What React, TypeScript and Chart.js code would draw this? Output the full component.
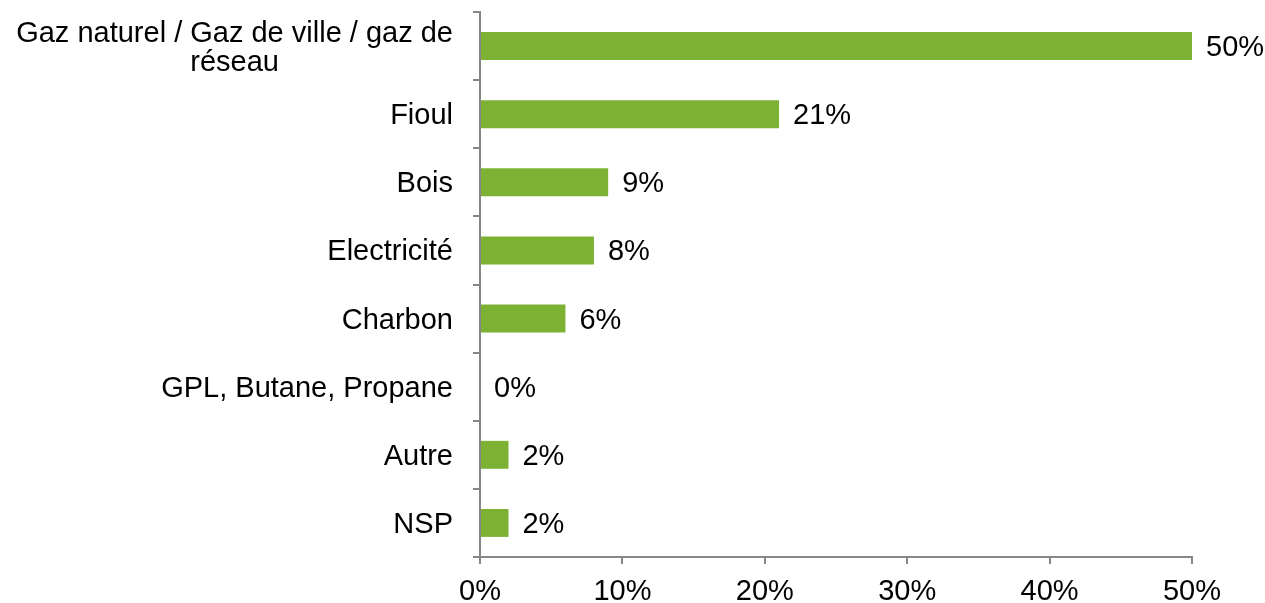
import React, { useEffect, useRef } from "react";
import { Chart, registerables } from "chart.js";

Chart.register(...registerables);

const categories: string[][] = [
  ["Gaz naturel / Gaz de ville / gaz de", "réseau"],
  ["Fioul"],
  ["Bois"],
  ["Electricité"],
  ["Charbon"],
  ["GPL, Butane, Propane"],
  ["Autre"],
  ["NSP"],
];
const values: number[] = [50, 21, 9, 8, 6, 0, 2, 2];
const valueLabels: string[] = ["50%", "21%", "9%", "8%", "6%", "0%", "2%", "2%"];
const xTicks: number[] = [0, 10, 20, 30, 40, 50];

const FONT = "Arial, 'Liberation Sans', sans-serif";
const FONT_SIZE = 29;
const AXIS_COLOR = "#878787";
const BAR_COLOR = "#7CB133";

const labelPlugin = {
  id: "customLabels",
  afterDraw(chart: any) {
    const ctx = chart.ctx;
    const yScale = chart.scales.y;
    const xScale = chart.scales.x;
    ctx.save();
    ctx.font = `${FONT_SIZE}px ${FONT}`;
    ctx.fillStyle = "#000";
    ctx.textBaseline = "middle";
    const rightEdge = yScale.right - 27;
    categories.forEach((lines, i) => {
      const yc = yScale.getPixelForValue(i) + 2;
      const lh = 29;
      const widths = lines.map((l) => ctx.measureText(l).width);
      const maxW = Math.max(...widths);
      lines.forEach((line, j) => {
        const y = yc + (j - (lines.length - 1) / 2) * lh;
        if (lines.length > 1) {
          ctx.textAlign = "center";
          ctx.fillText(line, rightEdge - maxW / 2, y);
        } else {
          ctx.textAlign = "right";
          ctx.fillText(line, rightEdge, y);
        }
      });
    });
    ctx.textAlign = "left";
    values.forEach((v, i) => {
      const x = xScale.getPixelForValue(v) + 14;
      const y = yScale.getPixelForValue(i) + 2;
      ctx.fillText(valueLabels[i], x, y);
    });
    ctx.restore();
  },
};

export default function App() {
  const canvasRef = useRef<HTMLCanvasElement | null>(null);

  useEffect(() => {
    document.body.style.margin = "0";
    const canvas = canvasRef.current;
    if (!canvas) return;
    const chart = new Chart(canvas, {
      type: "bar",
      data: {
        labels: categories.map((c) => c.join(" ")),
        datasets: [
          {
            data: values,
            backgroundColor: BAR_COLOR,
            borderWidth: 0,
            barPercentage: 0.41,
            categoryPercentage: 1,
          },
        ],
      },
      options: {
        indexAxis: "y",
        animation: false,
        responsive: false,
        maintainAspectRatio: false,
        layout: { padding: { top: 12, right: 73, left: 0, bottom: 0 } },
        plugins: {
          legend: { display: false },
          tooltip: { enabled: false },
        },
        scales: {
          x: {
            type: "linear",
            min: 0,
            max: 50,
            afterBuildTicks: (scale: any) => {
              scale.ticks = xTicks.map((v) => ({ value: v }));
            },
            afterFit: (scale: any) => {
              scale.height = 46;
            },
            ticks: {
              font: { family: FONT, size: FONT_SIZE },
              color: "#000",
              padding: 11,
              callback: (v: any) => `${v}%`,
              maxRotation: 0,
            },
            grid: {
              drawOnChartArea: false,
              drawTicks: true,
              tickLength: 7,
              color: AXIS_COLOR,
              lineWidth: 2,
            },
            border: { color: AXIS_COLOR, width: 2 },
          },
          y: {
            type: "category",
            offset: true,
            afterFit: (scale: any) => {
              scale.width = 480;
            },
            ticks: { display: false },
            grid: {
              offset: true,
              drawOnChartArea: false,
              drawTicks: true,
              tickLength: 7,
              color: AXIS_COLOR,
              lineWidth: 2,
            },
            border: { color: AXIS_COLOR, width: 2 },
          },
        },
      },
      plugins: [labelPlugin],
    });
    return () => chart.destroy();
  }, []);

  return (
    <div style={{ width: 1265, height: 603 }}>
      <canvas ref={canvasRef} width={1265} height={603} style={{ display: "block" }} />
    </div>
  );
}
